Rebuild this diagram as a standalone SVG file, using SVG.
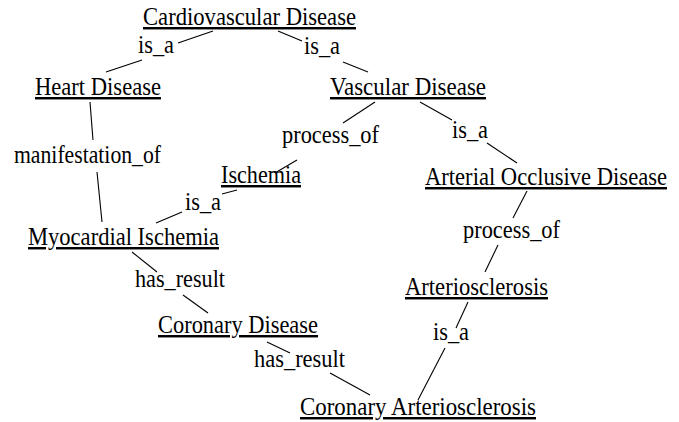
<svg xmlns="http://www.w3.org/2000/svg" width="679" height="422" viewBox="0 0 679 422">
<style>
text{font-family:"Liberation Serif","Times New Roman",serif;font-size:24.5px;fill:#000}
.n{text-decoration:underline}
#connectors line{stroke:#000;stroke-width:1.1}
</style>
<rect width="679" height="422" fill="#fff"/>
<g id="connectors">
<line x1="213" y1="31" x2="178" y2="43"/>
<line x1="142" y1="60" x2="106" y2="72"/>
<line x1="278" y1="31" x2="302" y2="41"/>
<line x1="343" y1="62" x2="368" y2="72"/>
<line x1="375" y1="102" x2="343" y2="123"/>
<line x1="297" y1="160" x2="275" y2="173"/>
<line x1="420" y1="102" x2="452" y2="120"/>
<line x1="487" y1="143" x2="517" y2="163"/>
<line x1="90" y1="102" x2="93" y2="140"/>
<line x1="97" y1="172" x2="102" y2="222"/>
<line x1="237" y1="190" x2="222" y2="194"/>
<line x1="182" y1="212" x2="156" y2="223"/>
<line x1="132" y1="252" x2="157" y2="272"/>
<line x1="183" y1="295" x2="208" y2="313"/>
<line x1="267" y1="342" x2="290" y2="353"/>
<line x1="330" y1="373" x2="370" y2="395"/>
<line x1="527" y1="191" x2="513" y2="218"/>
<line x1="498" y1="245" x2="485" y2="272"/>
<line x1="468" y1="302" x2="456" y2="328"/>
<line x1="445" y1="348" x2="418" y2="400"/>
</g>
<g id="labels">
<text x="138" y="53" textLength="36" lengthAdjust="spacingAndGlyphs">is_a</text>
<text x="304" y="54" textLength="36" lengthAdjust="spacingAndGlyphs">is_a</text>
<text x="282" y="143" textLength="97" lengthAdjust="spacingAndGlyphs">process_of</text>
<text x="452" y="138" textLength="36" lengthAdjust="spacingAndGlyphs">is_a</text>
<text x="14" y="163" textLength="147" lengthAdjust="spacingAndGlyphs">manifestation_of</text>
<text x="185" y="210" textLength="36" lengthAdjust="spacingAndGlyphs">is_a</text>
<text x="463" y="238" textLength="97" lengthAdjust="spacingAndGlyphs">process_of</text>
<text x="135" y="287" textLength="90" lengthAdjust="spacingAndGlyphs">has_result</text>
<text x="433" y="340" textLength="36" lengthAdjust="spacingAndGlyphs">is_a</text>
<text x="254" y="367" textLength="91" lengthAdjust="spacingAndGlyphs">has_result</text>
</g>
<g id="cardiovascular-disease"><text class="n" x="143" y="25" textLength="213" lengthAdjust="spacingAndGlyphs">Cardiovascular Disease</text></g>
<g id="heart-disease"><text class="n" x="35" y="95" textLength="126" lengthAdjust="spacingAndGlyphs">Heart Disease</text></g>
<g id="vascular-disease"><text class="n" x="330" y="95" textLength="156" lengthAdjust="spacingAndGlyphs">Vascular Disease</text></g>
<g id="ischemia"><text class="n" x="221" y="183" textLength="80" lengthAdjust="spacingAndGlyphs">Ischemia</text></g>
<g id="arterial-occlusive-disease"><text class="n" x="425" y="185" textLength="242" lengthAdjust="spacingAndGlyphs">Arterial Occlusive Disease</text></g>
<g id="myocardial-ischemia"><text class="n" x="28" y="245" textLength="191" lengthAdjust="spacingAndGlyphs">Myocardial Ischemia</text></g>
<g id="arteriosclerosis"><text class="n" x="405" y="295" textLength="143" lengthAdjust="spacingAndGlyphs">Arteriosclerosis</text></g>
<g id="coronary-disease"><text class="n" x="158" y="333" textLength="160" lengthAdjust="spacingAndGlyphs">Coronary Disease</text></g>
<g id="coronary-arteriosclerosis"><text class="n" x="300" y="415" textLength="236" lengthAdjust="spacingAndGlyphs">Coronary Arteriosclerosis</text></g>
</svg>
